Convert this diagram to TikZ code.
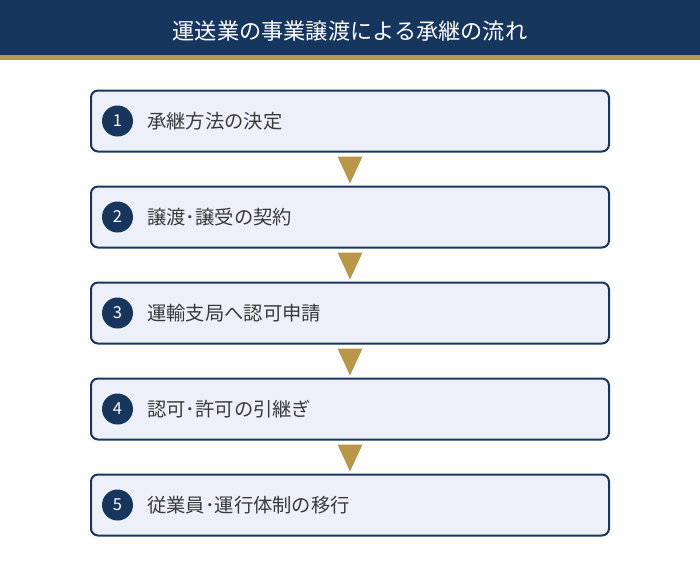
\documentclass[tikz,border=0pt]{standalone}
\usepackage{fontspec}
\usetikzlibrary{calc}
\setmainfont{Noto Sans CJK JP}
\definecolor{navy}{HTML}{17365D}
\definecolor{gold}{HTML}{B8974A}
\definecolor{boxfill}{HTML}{EDF0F8}
\definecolor{txt}{HTML}{3A3A3A}
\begin{document}
\begin{tikzpicture}[x=1pt,y=-1pt,
  stepbox/.style={draw=navy,line width=2pt,fill=boxfill,rounded corners=7pt,minimum width=518pt,minimum height=61pt,inner sep=0pt},
  numcirc/.style={circle,fill=navy,minimum size=31pt,inner sep=0pt,text=white,font=\fontsize{16.5}{16.5}\selectfont},
  steptext/.style={anchor=west,text=txt,font=\fontsize{19.3}{21}\selectfont,inner sep=0pt},
  arrowtri/.style={fill=gold,draw=none}]
\useasboundingbox (0,0) rectangle (700,566);
\fill[white] (0,0) rectangle (700,566);
\fill[navy] (0,0) rectangle (700,55);
\fill[gold] (0,55) rectangle (700,60);
\node[text=white,font=\fontsize{22.2}{24}\selectfont] (title) at (350,31) {運送業の事業譲渡による承継の流れ};
\foreach \i/\t [count=\k] in {1/承継方法の決定,2/譲渡･譲受の契約,3/運輸支局へ認可申請,4/認可･許可の引継ぎ,5/従業員･運行体制の移行}{
  \pgfmathsetmacro{\yy}{121+96*(\k-1)}
  \node[stepbox] (b\i) at (350,\yy) {};
  \node[numcirc] (n\i) at (117.5,\yy) {\i};
  \node[steptext] (t\i) at (147,\yy) {\t};
}
\foreach \a/\b in {1/2,2/3,3/4,4/5}{
  \fill[arrowtri] ($(b\a.south)+(-12.5,4)$) -- ($(b\a.south)+(12.5,4)$) -- ($(b\a.south)+(0,31)$) -- cycle;
}
\end{tikzpicture}
\end{document}
